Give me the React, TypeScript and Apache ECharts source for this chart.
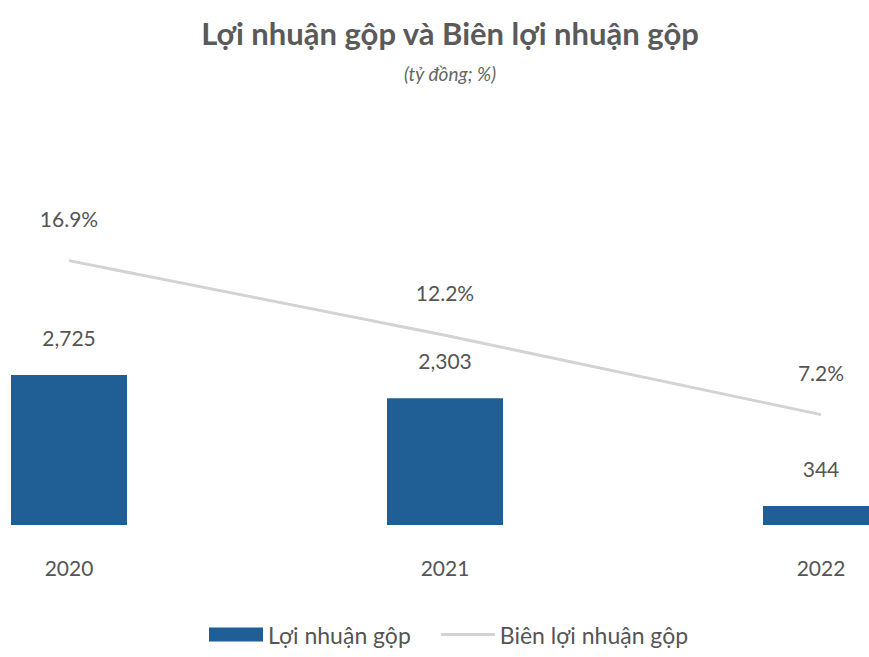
import React, { useEffect, useRef } from "react";
import * as echarts from "echarts";

const categories = ["2020", "2021", "2022"];
const grossProfit = [2725, 2303, 344];
const grossMargin = [16.9, 12.2, 7.2];

const FONT = "Lato";
const TEXT = "#555555";
const SHIFT = 119;
const LINE_COLOR = "#d3d3d3";

export default function App() {
  const ref = useRef<HTMLDivElement>(null);
  useEffect(() => {
    if (!ref.current) return;
    const chart = echarts.init(ref.current, undefined, { renderer: "svg" });
    chart.setOption({
      animation: false,
      backgroundColor: "#ffffff",
      textStyle: { fontFamily: FONT },
      title: {
        text: "Lợi nhuận gộp và Biên lợi nhuận gộp",
        subtext: "(tỷ đồng; %)",
        left: 445 + SHIFT,
        textAlign: "center",
        top: 12,
        itemGap: 16,
        textStyle: { fontFamily: FONT, fontSize: 31, fontWeight: "bold", color: "#5a5a5a" },
        subtextStyle: { fontFamily: FONT, fontSize: 19, fontStyle: "italic", color: "#666666" },
      },
      legend: {
        bottom: 6,
        left: 204 + SHIFT,
        itemWidth: 54,
        itemHeight: 14,
        itemGap: 30,
        textStyle: { fontFamily: FONT, fontSize: 23, color: TEXT },
        data: [
          { name: "Lợi nhuận gộp", icon: "rect" },
          {
            name: "Biên lợi nhuận gộp",
            icon: "path://M0,0 L54,0 L54,3 L0,3 Z",
            itemStyle: { color: LINE_COLOR, opacity: 1 },
          },
        ],
      },
      grid: { left: 0, right: 0, top: 125, height: 400, containLabel: false },
      xAxis: {
        type: "category",
        data: categories,
        axisLine: { show: false },
        axisTick: { show: false },
        axisLabel: { margin: 32, fontSize: 21, color: TEXT, fontFamily: FONT },
      },
      yAxis: [
        { type: "value", min: 0, max: 7267, show: false, splitLine: { show: false } },
        { type: "value", min: 0.25, max: 25.44, show: false, splitLine: { show: false } },
      ],
      series: [
        {
          name: "Lợi nhuận gộp",
          type: "bar",
          data: grossProfit,
          barWidth: 116,
          itemStyle: { color: "#1f5f96" },
          label: {
            show: true,
            position: "top",
            distance: 27,
            fontSize: 21,
            color: TEXT,
            fontFamily: FONT,
            formatter: (p: any) => Number(p.value).toLocaleString("en-US"),
          },
        },
        {
          name: "Biên lợi nhuận gộp",
          type: "line",
          yAxisIndex: 1,
          data: grossMargin,
          symbol: "circle",
          symbolSize: 0.1,
          showSymbol: true,
          lineStyle: { color: LINE_COLOR, width: 3 },
          itemStyle: { color: LINE_COLOR },
          label: {
            show: true,
            position: "top",
            distance: 32,
            fontSize: 21,
            color: TEXT,
            fontFamily: FONT,
            formatter: "{c}%",
          },
        },
      ],
    });
    return () => chart.dispose();
  }, []);
  return (
    <div
      ref={ref}
      style={{ position: "fixed", left: -SHIFT, top: 0, width: 1128, height: 657 }}
    />
  );
}
